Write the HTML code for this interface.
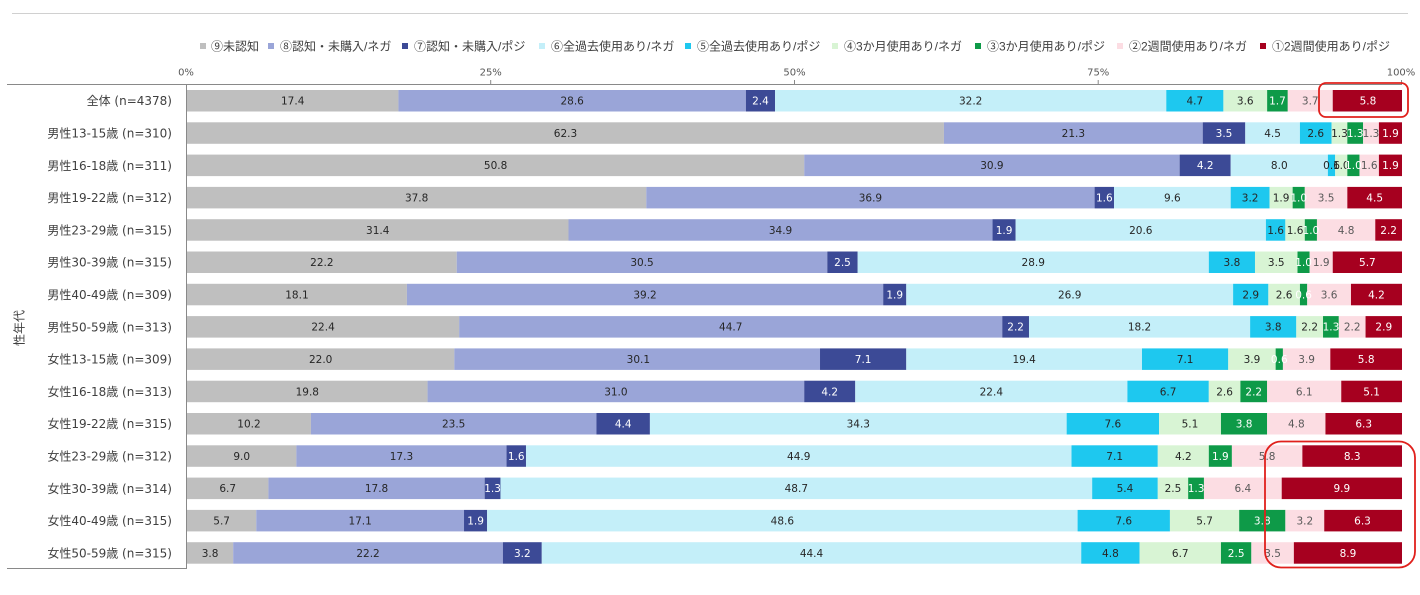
<!DOCTYPE html>
<html><head><meta charset="utf-8">
<style>
html,body{margin:0;padding:0;background:#fff;}
svg{display:block;}
.c9{fill:#bfbfbf}.c8{fill:#9aa5d8}.c7{fill:#3c4a96}.c6{fill:#c4eff9}.c5{fill:#1ec8ef}
.c4{fill:#d8f4d4}.c3{fill:#0e9a48}.c2{fill:#fcdde3}.c1{fill:#a6001f}
.lab{font-family:"DejaVu Sans","Noto Sans CJK JP",sans-serif;font-size:10.5px;text-anchor:middle;}
.d{fill:#262626}.w{fill:#ffffff}.p{fill:#595959}
.cat{font-family:"DejaVu Sans","Noto Sans CJK JP",sans-serif;font-size:12px;fill:#404040;text-anchor:end;}
.leg{font-family:"Liberation Sans","Noto Sans CJK JP",sans-serif;font-size:12px;fill:#404040;}
.tick{font-family:"DejaVu Sans",sans-serif;font-size:10px;fill:#595959;text-anchor:middle;}
</style></head>
<body>
<svg width="1420" height="595" viewBox="0 0 1420 595" xmlns="http://www.w3.org/2000/svg">
<rect width="1420" height="595" fill="#fff"/>
<line x1="12" y1="13.5" x2="1408" y2="13.5" stroke="#d0d0d0" stroke-width="1"/>

<!-- legend -->
<rect class="c9" x="200" y="43" width="6" height="6"/><text class="leg" x="211" y="50.5">⑨未認知</text>
<rect class="c8" x="268" y="43" width="6" height="6"/><text class="leg" x="280" y="50.5">⑧認知・未購入/ネガ</text>
<rect class="c7" x="402" y="43" width="6" height="6"/><text class="leg" x="414" y="50.5">⑦認知・未購入/ポジ</text>
<rect class="c6" x="539" y="43" width="6" height="6"/><text class="leg" x="551" y="50.5">⑥全過去使用あり/ネガ</text>
<rect class="c5" x="685" y="43" width="6" height="6"/><text class="leg" x="697" y="50.5">⑤全過去使用あり/ポジ</text>
<rect class="c4" x="832" y="43" width="6" height="6"/><text class="leg" x="844" y="50.5">④3か月使用あり/ネガ</text>
<rect class="c3" x="975" y="43" width="6" height="6"/><text class="leg" x="987" y="50.5">③3か月使用あり/ポジ</text>
<rect class="c2" x="1117" y="43" width="6" height="6"/><text class="leg" x="1129" y="50.5">②2週間使用あり/ネガ</text>
<rect class="c1" x="1260" y="43" width="6" height="6"/><text class="leg" x="1272" y="50.5">①2週間使用あり/ポジ</text>

<!-- tick labels -->
<text class="tick" x="186" y="75.5">0%</text>
<text class="tick" x="490.7" y="75.5">25%</text>
<text class="tick" x="794.5" y="75.5">50%</text>
<text class="tick" x="1098.2" y="75.5">75%</text>
<text class="tick" x="1401" y="75.5">100%</text>

<!-- rows -->
<svg x="187" y="90" width="1215" height="22" overflow="visible">
<rect class="c9" x="0%" y="0" width="17.4%" height="21.5"/><rect class="c8" x="17.4%" y="0" width="28.6%" height="21.5"/><rect class="c7" x="46%" y="0" width="2.4%" height="21.5"/><rect class="c6" x="48.4%" y="0" width="32.2%" height="21.5"/><rect class="c5" x="80.6%" y="0" width="4.7%" height="21.5"/><rect class="c4" x="85.3%" y="0" width="3.6%" height="21.5"/><rect class="c3" x="88.9%" y="0" width="1.7%" height="21.5"/><rect class="c2" x="90.6%" y="0" width="3.7%" height="21.5"/><rect class="c1" x="94.3%" y="0" width="5.7%" height="21.5"/>
<text class="lab d" x="8.7%" y="14.6">17.4</text><text class="lab d" x="31.7%" y="14.6">28.6</text><text class="lab w" x="47.2%" y="14.6">2.4</text><text class="lab d" x="64.5%" y="14.6">32.2</text><text class="lab d" x="82.95%" y="14.6">4.7</text><text class="lab d" x="87.1%" y="14.6">3.6</text><text class="lab w" x="89.75%" y="14.6">1.7</text><text class="lab p" x="92.45%" y="14.6">3.7</text><text class="lab w" x="97.2%" y="14.6">5.8</text>
</svg>

<svg x="187" y="122.3" width="1215" height="22" overflow="visible">
<rect class="c9" x="0%" y="0" width="62.3%" height="21.5"/><rect class="c8" x="62.3%" y="0" width="21.3%" height="21.5"/><rect class="c7" x="83.6%" y="0" width="3.5%" height="21.5"/><rect class="c6" x="87.1%" y="0" width="4.5%" height="21.5"/><rect class="c5" x="91.6%" y="0" width="2.6%" height="21.5"/><rect class="c4" x="94.2%" y="0" width="1.3%" height="21.5"/><rect class="c3" x="95.5%" y="0" width="1.3%" height="21.5"/><rect class="c2" x="96.8%" y="0" width="1.3%" height="21.5"/><rect class="c1" x="98.1%" y="0" width="1.9%" height="21.5"/>
<text class="lab d" x="31.15%" y="14.6">62.3</text><text class="lab d" x="72.95%" y="14.6">21.3</text><text class="lab w" x="85.35%" y="14.6">3.5</text><text class="lab d" x="89.35%" y="14.6">4.5</text><text class="lab d" x="92.9%" y="14.6">2.6</text><text class="lab d" x="94.85%" y="14.6">1.3</text><text class="lab w" x="96.15%" y="14.6">1.3</text><text class="lab p" x="97.45%" y="14.6">1.3</text><text class="lab w" x="99.05%" y="14.6">1.9</text>
</svg>

<svg x="187" y="154.6" width="1215" height="22" overflow="visible">
<rect class="c9" x="0%" y="0" width="50.8%" height="21.5"/><rect class="c8" x="50.8%" y="0" width="30.9%" height="21.5"/><rect class="c7" x="81.7%" y="0" width="4.2%" height="21.5"/><rect class="c6" x="85.9%" y="0" width="8%" height="21.5"/><rect class="c5" x="93.9%" y="0" width="0.6%" height="21.5"/><rect class="c4" x="94.5%" y="0" width="1%" height="21.5"/><rect class="c3" x="95.5%" y="0" width="1%" height="21.5"/><rect class="c2" x="96.5%" y="0" width="1.6%" height="21.5"/><rect class="c1" x="98.1%" y="0" width="1.9%" height="21.5"/>
<text class="lab d" x="25.4%" y="14.6">50.8</text><text class="lab d" x="66.25%" y="14.6">30.9</text><text class="lab w" x="83.8%" y="14.6">4.2</text><text class="lab d" x="89.9%" y="14.6">8.0</text><text class="lab d" x="94.2%" y="14.6">0.6</text><text class="lab d" x="95.0%" y="14.6">1.0</text><text class="lab w" x="96.0%" y="14.6">1.0</text><text class="lab p" x="97.3%" y="14.6">1.6</text><text class="lab w" x="99.05%" y="14.6">1.9</text>
</svg>

<svg x="187" y="186.9" width="1215" height="22" overflow="visible">
<rect class="c9" x="0%" y="0" width="37.8%" height="21.5"/><rect class="c8" x="37.8%" y="0" width="36.9%" height="21.5"/><rect class="c7" x="74.7%" y="0" width="1.6%" height="21.5"/><rect class="c6" x="76.3%" y="0" width="9.6%" height="21.5"/><rect class="c5" x="85.9%" y="0" width="3.2%" height="21.5"/><rect class="c4" x="89.1%" y="0" width="1.9%" height="21.5"/><rect class="c3" x="91%" y="0" width="1%" height="21.5"/><rect class="c2" x="92%" y="0" width="3.5%" height="21.5"/><rect class="c1" x="95.5%" y="0" width="4.5%" height="21.5"/>
<text class="lab d" x="18.9%" y="14.6">37.8</text><text class="lab d" x="56.25%" y="14.6">36.9</text><text class="lab w" x="75.5%" y="14.6">1.6</text><text class="lab d" x="81.1%" y="14.6">9.6</text><text class="lab d" x="87.5%" y="14.6">3.2</text><text class="lab d" x="90.05%" y="14.6">1.9</text><text class="lab w" x="91.5%" y="14.6">1.0</text><text class="lab p" x="93.75%" y="14.6">3.5</text><text class="lab w" x="97.75%" y="14.6">4.5</text>
</svg>

<svg x="187" y="219.2" width="1215" height="22" overflow="visible">
<rect class="c9" x="0%" y="0" width="31.4%" height="21.5"/><rect class="c8" x="31.4%" y="0" width="34.9%" height="21.5"/><rect class="c7" x="66.3%" y="0" width="1.9%" height="21.5"/><rect class="c6" x="68.2%" y="0" width="20.6%" height="21.5"/><rect class="c5" x="88.8%" y="0" width="1.6%" height="21.5"/><rect class="c4" x="90.4%" y="0" width="1.6%" height="21.5"/><rect class="c3" x="92%" y="0" width="1%" height="21.5"/><rect class="c2" x="93%" y="0" width="4.8%" height="21.5"/><rect class="c1" x="97.8%" y="0" width="2.2%" height="21.5"/>
<text class="lab d" x="15.7%" y="14.6">31.4</text><text class="lab d" x="48.85%" y="14.6">34.9</text><text class="lab w" x="67.25%" y="14.6">1.9</text><text class="lab d" x="78.5%" y="14.6">20.6</text><text class="lab d" x="89.6%" y="14.6">1.6</text><text class="lab d" x="91.2%" y="14.6">1.6</text><text class="lab w" x="92.5%" y="14.6">1.0</text><text class="lab p" x="95.4%" y="14.6">4.8</text><text class="lab w" x="98.9%" y="14.6">2.2</text>
</svg>

<svg x="187" y="251.5" width="1215" height="22" overflow="visible">
<rect class="c9" x="0%" y="0" width="22.2%" height="21.5"/><rect class="c8" x="22.2%" y="0" width="30.5%" height="21.5"/><rect class="c7" x="52.7%" y="0" width="2.5%" height="21.5"/><rect class="c6" x="55.2%" y="0" width="28.9%" height="21.5"/><rect class="c5" x="84.1%" y="0" width="3.8%" height="21.5"/><rect class="c4" x="87.9%" y="0" width="3.5%" height="21.5"/><rect class="c3" x="91.4%" y="0" width="1%" height="21.5"/><rect class="c2" x="92.4%" y="0" width="1.9%" height="21.5"/><rect class="c1" x="94.3%" y="0" width="5.7%" height="21.5"/>
<text class="lab d" x="11.1%" y="14.6">22.2</text><text class="lab d" x="37.45%" y="14.6">30.5</text><text class="lab w" x="53.95%" y="14.6">2.5</text><text class="lab d" x="69.65%" y="14.6">28.9</text><text class="lab d" x="86.0%" y="14.6">3.8</text><text class="lab d" x="89.65%" y="14.6">3.5</text><text class="lab w" x="91.9%" y="14.6">1.0</text><text class="lab p" x="93.35%" y="14.6">1.9</text><text class="lab w" x="97.15%" y="14.6">5.7</text>
</svg>

<svg x="187" y="283.8" width="1215" height="22" overflow="visible">
<rect class="c9" x="0%" y="0" width="18.1%" height="21.5"/><rect class="c8" x="18.1%" y="0" width="39.2%" height="21.5"/><rect class="c7" x="57.3%" y="0" width="1.9%" height="21.5"/><rect class="c6" x="59.2%" y="0" width="26.9%" height="21.5"/><rect class="c5" x="86.1%" y="0" width="2.9%" height="21.5"/><rect class="c4" x="89%" y="0" width="2.6%" height="21.5"/><rect class="c3" x="91.6%" y="0" width="0.6%" height="21.5"/><rect class="c2" x="92.2%" y="0" width="3.6%" height="21.5"/><rect class="c1" x="95.8%" y="0" width="4.2%" height="21.5"/>
<text class="lab d" x="9.05%" y="14.6">18.1</text><text class="lab d" x="37.7%" y="14.6">39.2</text><text class="lab w" x="58.25%" y="14.6">1.9</text><text class="lab d" x="72.65%" y="14.6">26.9</text><text class="lab d" x="87.55%" y="14.6">2.9</text><text class="lab d" x="90.3%" y="14.6">2.6</text><text class="lab w" x="91.9%" y="14.6">0.6</text><text class="lab p" x="94.0%" y="14.6">3.6</text><text class="lab w" x="97.9%" y="14.6">4.2</text>
</svg>

<svg x="187" y="316.1" width="1215" height="22" overflow="visible">
<rect class="c9" x="0%" y="0" width="22.4%" height="21.5"/><rect class="c8" x="22.4%" y="0" width="44.7%" height="21.5"/><rect class="c7" x="67.1%" y="0" width="2.2%" height="21.5"/><rect class="c6" x="69.3%" y="0" width="18.2%" height="21.5"/><rect class="c5" x="87.5%" y="0" width="3.8%" height="21.5"/><rect class="c4" x="91.3%" y="0" width="2.2%" height="21.5"/><rect class="c3" x="93.5%" y="0" width="1.3%" height="21.5"/><rect class="c2" x="94.8%" y="0" width="2.2%" height="21.5"/><rect class="c1" x="97%" y="0" width="3%" height="21.5"/>
<text class="lab d" x="11.2%" y="14.6">22.4</text><text class="lab d" x="44.75%" y="14.6">44.7</text><text class="lab w" x="68.2%" y="14.6">2.2</text><text class="lab d" x="78.4%" y="14.6">18.2</text><text class="lab d" x="89.4%" y="14.6">3.8</text><text class="lab d" x="92.4%" y="14.6">2.2</text><text class="lab w" x="94.15%" y="14.6">1.3</text><text class="lab p" x="95.9%" y="14.6">2.2</text><text class="lab w" x="98.5%" y="14.6">2.9</text>
</svg>

<svg x="187" y="348.4" width="1215" height="22" overflow="visible">
<rect class="c9" x="0%" y="0" width="22%" height="21.5"/><rect class="c8" x="22%" y="0" width="30.1%" height="21.5"/><rect class="c7" x="52.1%" y="0" width="7.1%" height="21.5"/><rect class="c6" x="59.2%" y="0" width="19.4%" height="21.5"/><rect class="c5" x="78.6%" y="0" width="7.1%" height="21.5"/><rect class="c4" x="85.7%" y="0" width="3.9%" height="21.5"/><rect class="c3" x="89.6%" y="0" width="0.6%" height="21.5"/><rect class="c2" x="90.2%" y="0" width="3.9%" height="21.5"/><rect class="c1" x="94.1%" y="0" width="5.9%" height="21.5"/>
<text class="lab d" x="11.0%" y="14.6">22.0</text><text class="lab d" x="37.15%" y="14.6">30.1</text><text class="lab w" x="55.65%" y="14.6">7.1</text><text class="lab d" x="68.9%" y="14.6">19.4</text><text class="lab d" x="82.15%" y="14.6">7.1</text><text class="lab d" x="87.65%" y="14.6">3.9</text><text class="lab w" x="89.9%" y="14.6">0.6</text><text class="lab p" x="92.15%" y="14.6">3.9</text><text class="lab w" x="97.05%" y="14.6">5.8</text>
</svg>

<svg x="187" y="380.7" width="1215" height="22" overflow="visible">
<rect class="c9" x="0%" y="0" width="19.8%" height="21.5"/><rect class="c8" x="19.8%" y="0" width="31%" height="21.5"/><rect class="c7" x="50.8%" y="0" width="4.2%" height="21.5"/><rect class="c6" x="55%" y="0" width="22.4%" height="21.5"/><rect class="c5" x="77.4%" y="0" width="6.7%" height="21.5"/><rect class="c4" x="84.1%" y="0" width="2.6%" height="21.5"/><rect class="c3" x="86.7%" y="0" width="2.2%" height="21.5"/><rect class="c2" x="88.9%" y="0" width="6.1%" height="21.5"/><rect class="c1" x="95%" y="0" width="5%" height="21.5"/>
<text class="lab d" x="9.9%" y="14.6">19.8</text><text class="lab d" x="35.3%" y="14.6">31.0</text><text class="lab w" x="52.9%" y="14.6">4.2</text><text class="lab d" x="66.2%" y="14.6">22.4</text><text class="lab d" x="80.75%" y="14.6">6.7</text><text class="lab d" x="85.4%" y="14.6">2.6</text><text class="lab w" x="87.8%" y="14.6">2.2</text><text class="lab p" x="91.95%" y="14.6">6.1</text><text class="lab w" x="97.5%" y="14.6">5.1</text>
</svg>

<svg x="187" y="413" width="1215" height="22" overflow="visible">
<rect class="c9" x="0%" y="0" width="10.2%" height="21.5"/><rect class="c8" x="10.2%" y="0" width="23.5%" height="21.5"/><rect class="c7" x="33.7%" y="0" width="4.4%" height="21.5"/><rect class="c6" x="38.1%" y="0" width="34.3%" height="21.5"/><rect class="c5" x="72.4%" y="0" width="7.6%" height="21.5"/><rect class="c4" x="80%" y="0" width="5.1%" height="21.5"/><rect class="c3" x="85.1%" y="0" width="3.8%" height="21.5"/><rect class="c2" x="88.9%" y="0" width="4.8%" height="21.5"/><rect class="c1" x="93.7%" y="0" width="6.3%" height="21.5"/>
<text class="lab d" x="5.1%" y="14.6">10.2</text><text class="lab d" x="21.95%" y="14.6">23.5</text><text class="lab w" x="35.9%" y="14.6">4.4</text><text class="lab d" x="55.25%" y="14.6">34.3</text><text class="lab d" x="76.2%" y="14.6">7.6</text><text class="lab d" x="82.55%" y="14.6">5.1</text><text class="lab w" x="87.0%" y="14.6">3.8</text><text class="lab p" x="91.3%" y="14.6">4.8</text><text class="lab w" x="96.85%" y="14.6">6.3</text>
</svg>

<svg x="187" y="445.3" width="1215" height="22" overflow="visible">
<rect class="c9" x="0%" y="0" width="9%" height="21.5"/><rect class="c8" x="9%" y="0" width="17.3%" height="21.5"/><rect class="c7" x="26.3%" y="0" width="1.6%" height="21.5"/><rect class="c6" x="27.9%" y="0" width="44.9%" height="21.5"/><rect class="c5" x="72.8%" y="0" width="7.1%" height="21.5"/><rect class="c4" x="79.9%" y="0" width="4.2%" height="21.5"/><rect class="c3" x="84.1%" y="0" width="1.9%" height="21.5"/><rect class="c2" x="86%" y="0" width="5.8%" height="21.5"/><rect class="c1" x="91.8%" y="0" width="8.2%" height="21.5"/>
<text class="lab d" x="4.5%" y="14.6">9.0</text><text class="lab d" x="17.65%" y="14.6">17.3</text><text class="lab w" x="27.1%" y="14.6">1.6</text><text class="lab d" x="50.35%" y="14.6">44.9</text><text class="lab d" x="76.35%" y="14.6">7.1</text><text class="lab d" x="82.0%" y="14.6">4.2</text><text class="lab w" x="85.05%" y="14.6">1.9</text><text class="lab p" x="88.9%" y="14.6">5.8</text><text class="lab w" x="95.9%" y="14.6">8.3</text>
</svg>

<svg x="187" y="477.6" width="1215" height="22" overflow="visible">
<rect class="c9" x="0%" y="0" width="6.7%" height="21.5"/><rect class="c8" x="6.7%" y="0" width="17.8%" height="21.5"/><rect class="c7" x="24.5%" y="0" width="1.3%" height="21.5"/><rect class="c6" x="25.8%" y="0" width="48.7%" height="21.5"/><rect class="c5" x="74.5%" y="0" width="5.4%" height="21.5"/><rect class="c4" x="79.9%" y="0" width="2.5%" height="21.5"/><rect class="c3" x="82.4%" y="0" width="1.3%" height="21.5"/><rect class="c2" x="83.7%" y="0" width="6.4%" height="21.5"/><rect class="c1" x="90.1%" y="0" width="9.9%" height="21.5"/>
<text class="lab d" x="3.35%" y="14.6">6.7</text><text class="lab d" x="15.6%" y="14.6">17.8</text><text class="lab w" x="25.15%" y="14.6">1.3</text><text class="lab d" x="50.15%" y="14.6">48.7</text><text class="lab d" x="77.2%" y="14.6">5.4</text><text class="lab d" x="81.15%" y="14.6">2.5</text><text class="lab w" x="83.05%" y="14.6">1.3</text><text class="lab p" x="86.9%" y="14.6">6.4</text><text class="lab w" x="95.05%" y="14.6">9.9</text>
</svg>

<svg x="187" y="509.9" width="1215" height="22" overflow="visible">
<rect class="c9" x="0%" y="0" width="5.7%" height="21.5"/><rect class="c8" x="5.7%" y="0" width="17.1%" height="21.5"/><rect class="c7" x="22.8%" y="0" width="1.9%" height="21.5"/><rect class="c6" x="24.7%" y="0" width="48.6%" height="21.5"/><rect class="c5" x="73.3%" y="0" width="7.6%" height="21.5"/><rect class="c4" x="80.9%" y="0" width="5.7%" height="21.5"/><rect class="c3" x="86.6%" y="0" width="3.8%" height="21.5"/><rect class="c2" x="90.4%" y="0" width="3.2%" height="21.5"/><rect class="c1" x="93.6%" y="0" width="6.4%" height="21.5"/>
<text class="lab d" x="2.85%" y="14.6">5.7</text><text class="lab d" x="14.25%" y="14.6">17.1</text><text class="lab w" x="23.75%" y="14.6">1.9</text><text class="lab d" x="49.0%" y="14.6">48.6</text><text class="lab d" x="77.1%" y="14.6">7.6</text><text class="lab d" x="83.75%" y="14.6">5.7</text><text class="lab w" x="88.5%" y="14.6">3.8</text><text class="lab p" x="92.0%" y="14.6">3.2</text><text class="lab w" x="96.75%" y="14.6">6.3</text>
</svg>

<svg x="187" y="542.2" width="1215" height="22" overflow="visible">
<rect class="c9" x="0%" y="0" width="3.8%" height="21.5"/><rect class="c8" x="3.8%" y="0" width="22.2%" height="21.5"/><rect class="c7" x="26%" y="0" width="3.2%" height="21.5"/><rect class="c6" x="29.2%" y="0" width="44.4%" height="21.5"/><rect class="c5" x="73.6%" y="0" width="4.8%" height="21.5"/><rect class="c4" x="78.4%" y="0" width="6.7%" height="21.5"/><rect class="c3" x="85.1%" y="0" width="2.5%" height="21.5"/><rect class="c2" x="87.6%" y="0" width="3.5%" height="21.5"/><rect class="c1" x="91.1%" y="0" width="8.9%" height="21.5"/>
<text class="lab d" x="1.9%" y="14.6">3.8</text><text class="lab d" x="14.9%" y="14.6">22.2</text><text class="lab w" x="27.6%" y="14.6">3.2</text><text class="lab d" x="51.4%" y="14.6">44.4</text><text class="lab d" x="76.0%" y="14.6">4.8</text><text class="lab d" x="81.75%" y="14.6">6.7</text><text class="lab w" x="86.35%" y="14.6">2.5</text><text class="lab p" x="89.35%" y="14.6">3.5</text><text class="lab w" x="95.55%" y="14.6">8.9</text>
</svg>

<!-- axes -->
<line x1="7" y1="84.5" x2="1402" y2="84.5" stroke="#898989" stroke-width="1"/>
<line x1="186.5" y1="84" x2="186.5" y2="569" stroke="#898989" stroke-width="1"/>
<line x1="7" y1="568.5" x2="186.5" y2="568.5" stroke="#898989" stroke-width="1"/>
<line x1="490.7" y1="80" x2="490.7" y2="84" stroke="#898989" stroke-width="1"/>
<line x1="794.5" y1="80" x2="794.5" y2="84" stroke="#898989" stroke-width="1"/>
<line x1="1098.2" y1="80" x2="1098.2" y2="84" stroke="#898989" stroke-width="1"/>
<line x1="1401.5" y1="80" x2="1401.5" y2="84" stroke="#898989" stroke-width="1"/>

<!-- category labels -->
<text class="cat" x="172" y="105.2">全体 (n=4378)</text>
<text class="cat" x="172" y="137.5">男性13-15歳 (n=310)</text>
<text class="cat" x="172" y="169.8">男性16-18歳 (n=311)</text>
<text class="cat" x="172" y="202.1">男性19-22歳 (n=312)</text>
<text class="cat" x="172" y="234.4">男性23-29歳 (n=315)</text>
<text class="cat" x="172" y="266.7">男性30-39歳 (n=315)</text>
<text class="cat" x="172" y="299.0">男性40-49歳 (n=309)</text>
<text class="cat" x="172" y="331.3">男性50-59歳 (n=313)</text>
<text class="cat" x="172" y="363.6">女性13-15歳 (n=309)</text>
<text class="cat" x="172" y="395.9">女性16-18歳 (n=313)</text>
<text class="cat" x="172" y="428.2">女性19-22歳 (n=315)</text>
<text class="cat" x="172" y="460.5">女性23-29歳 (n=312)</text>
<text class="cat" x="172" y="492.8">女性30-39歳 (n=314)</text>
<text class="cat" x="172" y="525.1">女性40-49歳 (n=315)</text>
<text class="cat" x="172" y="557.4">女性50-59歳 (n=315)</text>

<!-- y axis title -->
<text class="leg" transform="translate(23.5,328) rotate(-90)" text-anchor="middle">性年代</text>

<!-- highlight boxes -->
<rect x="1319" y="83" width="89" height="34" rx="7" ry="7" fill="none" stroke="#e0201c" stroke-width="1.8"/>
<rect x="1265" y="441.5" width="150" height="126" rx="16" ry="16" fill="none" stroke="#e0201c" stroke-width="1.8"/>
</svg>
</body></html>
